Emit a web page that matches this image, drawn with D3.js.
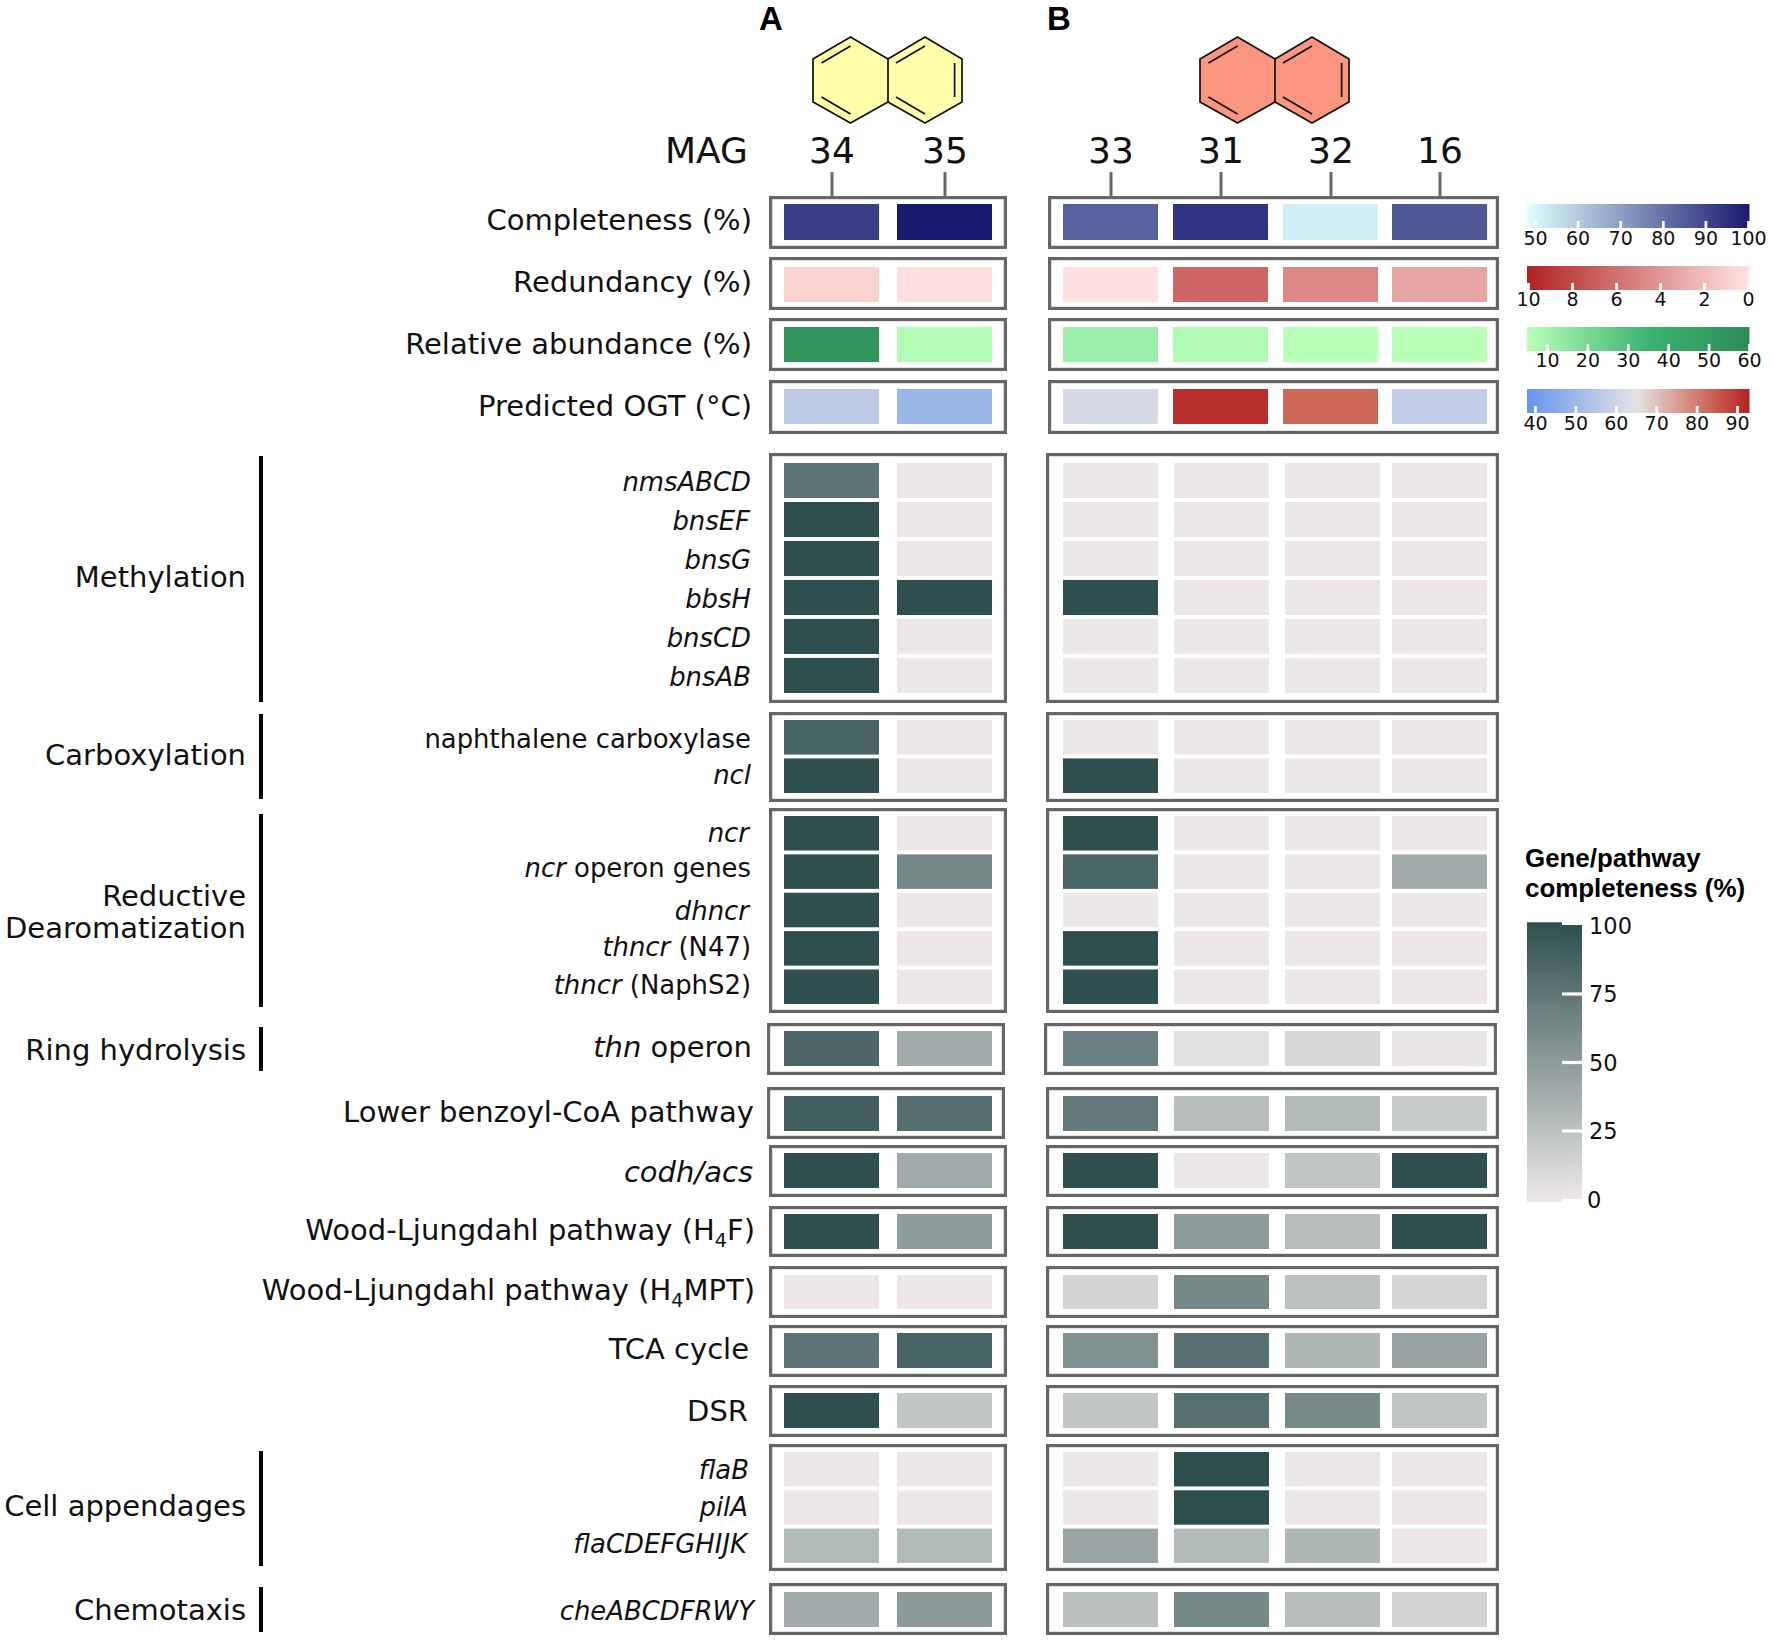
<!DOCTYPE html>
<html>
<head>
<meta charset="utf-8">
<script src="https://d3js.org/d3.v7.min.js"></script>
<style>html,body{margin:0;padding:0;background:#fff}svg{display:block}</style>
</head>
<body>
<svg id="c" width="1772" height="1642"></svg>
<script>
// ---------- DATA ----------
const magsA = ["34", "35"];
const magsB = ["33", "31", "32", "16"];
const mags = magsA.concat(magsB);

const completeness = [92, 100, 84, 94, 52, 86];
const redundancy = [0.9, 0.2, 0.15, 6.5, 4.8, 3.2];
const abundance = [53.7, 6.2, 11.3, 7, 5, 5];
const ogt = [56.4, 49.5, 61.5, 91, 83, 57.3];

const metaLabels = ["Completeness (%)", "Redundancy (%)", "Relative abundance (%)", "Predicted OGT (°C)"];

const methylationRows = ["*nmsABCD*", "*bnsEF*", "*bnsG*", "*bbsH*", "*bnsCD*", "*bnsAB*"];
const methylationValues = [
  [76, 0, 0, 0, 0, 0],
  [100, 0, 0, 0, 0, 0],
  [100, 0, 0, 0, 0, 0],
  [100, 100, 100, 0, 0, 0],
  [100, 0, 0, 0, 0, 0],
  [100, 0, 0, 0, 0, 0]
];
const carboxylationRows = ["naphthalene carboxylase", "*ncl*"];
const carboxylationValues = [
  [86, 0, 0, 0, 0, 0],
  [100, 0, 100, 0, 0, 0]
];
const reductiveRows = ["*ncr*", "*ncr* operon genes", "*dhncr*", "*thncr* (N47)", "*thncr* (NaphS2)"];
const reductiveValues = [
  [100, 0, 100, 0, 0, 0],
  [100, 63, 85, 0, 0, 39],
  [100, 0, 0, 0, 0, 0],
  [100, 0, 100, 0, 0, 0],
  [100, 0, 100, 0, 0, 0]
];
const thnValues = [84, 39, 68, 5, 11, 1];
const lowerBenzoylValues = [90, 80, 72, 28, 30, 19];
const codhValues = [100, 40, 100, 0, 23, 100];
const wlH4fValues = [100, 50, 100, 50, 28, 100];
const wlH4mptValues = [0, 0, 13, 63, 26, 12];
const tcaValues = [76, 86, 57, 79, 32, 45];
const dsrValues = [100, 22, 22, 79, 62, 23];
const appendageRows = ["*flaB*", "*pilA*", "*flaCDEFGHIJK*"];
const appendageValues = [
  [0, 0, 0, 100, 0, 0],
  [0, 0, 0, 100, 0, 0],
  [30, 30, 44, 30, 32, 0]
];
const chemotaxisValues = [39, 51, 27, 63, 28, 14];

const completenessTicks = [50, 60, 70, 80, 90, 100];
const redundancyTicks = [10, 8, 6, 4, 2, 0];
const abundanceTicks = [10, 20, 30, 40, 50, 60];
const ogtTicks = [40, 50, 60, 70, 80, 90];
const geneTicks = [0, 25, 50, 75, 100];

// ---------- COLOUR SCALES ----------
const completenessColor = d3.scaleLinear().domain([48.1, 100.3]).range(["#e0ffff", "#191970"]);
const redundancyColor = d3.scaleLinear().domain([0, 10]).range(["#ffe4e1", "#b22222"]);
const abundanceColor = d3.scaleLinear().domain([5, 35, 60]).range(["#b8ffb8", "#3cb371", "#2e8b57"]);
const ogtColor = d3.scaleLinear().domain([38, 65, 83, 93]).range(["#6495ed", "#e6e3e3", "#cd6858", "#b22222"]);
const geneColor = d3.scaleLinear().domain([0, 100]).range(["#ece8e8", "#2f4f4f"]);

// ---------- LAYOUT ----------
const W = 1772, H = 1642;
const FONT = "'DejaVu Sans'";
const FRAME = "#666666";
const CELL_W = 95;
const LARGE = 29, SMALL = 25.9;

const xTop = d3.scaleOrdinal(mags, [784, 897, 1063, 1173, 1283, 1392]);
const xBody = d3.scaleOrdinal(mags, [784, 897, 1063, 1174, 1285, 1392]);
const xCenter = d3.scaleOrdinal(mags, mags.map(m => xTop(m) + CELL_W / 2));

const svg = d3.select("#c");
const defs = svg.append("defs");

// rich text: *italic*, ~subscript~
function rich(sel, s, size) {
  const parts = s.split(/(\*[^*]+\*|~[^~]+~)/).filter(Boolean);
  let pendingUp = 0;
  parts.forEach(p => {
    const t = sel.append("tspan");
    if (pendingUp) { t.attr("dy", -pendingUp); pendingUp = 0; }
    if (p[0] === "*") t.attr("font-style", "italic").text(p.slice(1, -1));
    else if (p[0] === "~") {
      t.attr("font-size", size * 0.66).attr("dy", 7).text(p.slice(1, -1));
      pendingUp = 7;
    } else t.text(p);
  });
}

function label(x, y, s, size) {
  const t = svg.append("text").attr("x", x).attr("y", y).attr("text-anchor", "end")
    .attr("font-family", FONT).attr("font-size", size).attr("fill", "#111");
  rich(t, s, size);
}

function frame(x0, x1, y0, y1) {
  svg.append("rect").attr("x", x0 + 1.6).attr("y", y0 + 1.6)
    .attr("width", x1 - x0 - 3.2).attr("height", y1 - y0 - 3.2)
    .attr("fill", "#fff").attr("stroke", FRAME).attr("stroke-width", 3.2);
}

// a block = frames + a matrix of cells
function block(cfg) {
  const a = cfg.a || [769, 1007], b = cfg.b || [1046, 1499];
  frame(a[0], a[1], cfg.frame[0], cfg.frame[1]);
  frame(b[0], b[1], cfg.frame[0], cfg.frame[1]);
  const n = cfg.values.length;
  const y = d3.scaleBand().domain(d3.range(n)).range(cfg.cells).paddingInner(n > 1 ? 0.1 : 0);
  const x = cfg.x || xBody;
  cfg.values.forEach((row, i) => {
    svg.append("g").selectAll("rect").data(row).join("rect")
      .attr("x", (d, j) => x(mags[j]))
      .attr("y", y(i))
      .attr("width", CELL_W)
      .attr("height", y.bandwidth())
      .attr("fill", d => (cfg.color || geneColor)(d));
  });
}

// ---------- HEADER ----------
svg.append("text").attr("x", 759).attr("y", 30).attr("font-family", "'Liberation Sans'")
  .attr("font-weight", "bold").attr("font-size", 33).attr("fill", "#000").text("A");
svg.append("text").attr("x", 1047).attr("y", 30).attr("font-family", "'Liberation Sans'")
  .attr("font-weight", "bold").attr("font-size", 33).attr("fill", "#000").text("B");

function naphthalene(dx, fill) {
  const g = svg.append("g").attr("transform", `translate(${dx},0)`)
    .attr("stroke", "#111").attr("stroke-width", 1.7).attr("fill", "none").attr("stroke-linejoin", "miter");
  g.append("path").attr("fill", fill)
    .attr("d", "M813,59L850.5,37L888,59L925,37L962,59L962,102L925,123L888,102L850.5,123L813,102Z");
  g.append("path").attr("d",
    "M888,59L888,102M821.5,63L850.5,46M821.5,97L850.5,114M896,63L925,46M896,97L925,114M954.6,63L954.6,97");
}
naphthalene(0, "#ffffaa");
naphthalene(387, "#fa9580");

svg.append("text").attr("x", 748).attr("y", 163).attr("text-anchor", "end")
  .attr("font-family", FONT).attr("font-size", 36).attr("fill", "#111").text("MAG");

// ---------- METADATA ROWS ----------
const metaLayout = [
  { frame: [196, 249], cells: [204, 240], label: 230 },
  { frame: [257, 310], cells: [267, 302], label: 292 },
  { frame: [318, 371], cells: [327, 362], label: 354 },
  { frame: [380, 434], cells: [389, 424], label: 416 }
];
const metaValues = [completeness, redundancy, abundance, ogt];
const metaColors = [completenessColor, redundancyColor, abundanceColor, ogtColor];
metaLayout.forEach((l, i) => {
  block({ frame: l.frame, cells: l.cells, values: [metaValues[i]], color: metaColors[i], x: xTop, b: [1048, 1499] });
  label(752, l.label, metaLabels[i], LARGE);
});

// MAG axis (ticks run down to the first frame)
const magAxis = svg.append("g").attr("transform", "translate(0,196)")
  .call(d3.axisTop(xCenter).tickSizeInner(24).tickSizeOuter(0).tickPadding(9));
magAxis.select(".domain").remove();
magAxis.selectAll("line").attr("stroke", FRAME).attr("stroke-width", 3);
magAxis.selectAll("text").attr("font-family", FONT).attr("font-size", 36).attr("fill", "#111");

// ---------- GENE ROWS ----------
block({ frame: [453, 703], cells: [463, 693], values: methylationValues });
block({ frame: [712, 802], cells: [720, 793], values: carboxylationValues });
block({ frame: [808, 1013], cells: [816, 1004], values: reductiveValues });
block({ frame: [1023, 1075], cells: [1031, 1066], values: [thnValues], a: [767, 1005], b: [1044, 1497] });
block({ frame: [1087, 1139], cells: [1096, 1131], values: [lowerBenzoylValues], a: [767, 1005] });
block({ frame: [1145, 1197], cells: [1153, 1188], values: [codhValues] });
block({ frame: [1206, 1257], cells: [1214, 1249], values: [wlH4fValues] });
block({ frame: [1266, 1318], cells: [1275, 1309], values: [wlH4mptValues] });
block({ frame: [1325, 1377], cells: [1333, 1368], values: [tcaValues] });
block({ frame: [1385, 1437], cells: [1393, 1428], values: [dsrValues] });
block({ frame: [1444, 1571], cells: [1452, 1563], values: appendageValues });
block({ frame: [1583, 1635], cells: [1592, 1627], values: [chemotaxisValues] });

const smallPos = [[751, 491], [750, 530], [751, 569], [751, 608], [751, 647], [751, 686]];
methylationRows.forEach((s, i) => label(smallPos[i][0], smallPos[i][1], s, SMALL));
const carbPos = [[751, 748], [751, 784]];
carboxylationRows.forEach((s, i) => label(carbPos[i][0], carbPos[i][1], s, SMALL));
const redPos = [[749, 842], [751, 877], [749, 920], [751, 956], [751, 994]];
reductiveRows.forEach((s, i) => label(redPos[i][0], redPos[i][1], s, SMALL));
const appPos = [[749, 1479], [748, 1516], [747, 1553]];
appendageRows.forEach((s, i) => label(appPos[i][0], appPos[i][1], s, SMALL));
label(754, 1620, "*cheABCDFRWY*", SMALL);

label(752, 1057, "*thn* operon", LARGE);
label(754, 1122, "Lower benzoyl-CoA pathway", LARGE);
label(753, 1182, "*codh/acs*", LARGE);
label(755, 1240, "Wood-Ljungdahl pathway (H~4~F)", LARGE);
label(755, 1300, "Wood-Ljungdahl pathway (H~4~MPT)", LARGE);
label(749, 1359, "TCA cycle", LARGE);
label(748, 1421, "DSR", LARGE);

// ---------- PROCESS GROUPS ----------
const groupNames = ["Methylation", "Carboxylation", "Reductive", "Dearomatization", "Ring hydrolysis", "Cell appendages", "Chemotaxis"];
const groupBaselines = [587, 765, 906, 938, 1060, 1516, 1620];
groupNames.forEach((s, i) => label(246, groupBaselines[i], s, LARGE));
const groupBars = [[456, 702], [714, 799], [814, 1007], [1027, 1071], [1451, 1566], [1587, 1632]];
svg.append("g").selectAll("line").data(groupBars).join("line")
  .attr("x1", 261).attr("x2", 261).attr("y1", d => d[0]).attr("y2", d => d[1])
  .attr("stroke", "#000").attr("stroke-width", 4);

// ---------- COLOUR BARS ----------
function gradient(id, color, horizontalDomain, flip) {
  const dom = horizontalDomain;
  const lg = defs.append("linearGradient").attr("id", id)
    .attr("x1", 0).attr("x2", flip === "v" ? 0 : 1).attr("y1", flip === "v" ? 1 : 0).attr("y2", 0);
  const stops = d3.range(0, 21).map(i => i / 20);
  lg.selectAll("stop").data(stops).join("stop")
    .attr("offset", d => d)
    .attr("stop-color", d => color(dom[0] + (dom[1] - dom[0]) * d));
  return `url(#${id})`;
}

const bars = [
  { id: "gC", color: completenessColor, y: 204, ticks: completenessTicks, dom: [50, 100], rng: [1535, 1748], text: 17, ends: [48.1, 100.3], notch: [1748, 1750] },
  { id: "gR", color: redundancyColor, y: 266, ticks: redundancyTicks, dom: [10, 0], rng: [1528, 1748], text: 16, ends: [10.03, -0.05], notch: [1526, 1528] },
  { id: "gA", color: abundanceColor, y: 327, ticks: abundanceTicks, dom: [10, 60], rng: [1547, 1749], text: 16, ends: [5, 60] },
  { id: "gO", color: ogtColor, y: 389, ticks: ogtTicks, dom: [40, 90], rng: [1535, 1737], text: 17, ends: [38, 93] }
];
const BAR_X = [1527, 1749.5], BAR_H = 24;
bars.forEach(b => {
  const x = d3.scaleLinear().domain(b.dom).range(b.rng);
  const fill = gradient(b.id, b.color, b.ends);
  svg.append("rect").attr("x", BAR_X[0]).attr("y", b.y)
    .attr("width", BAR_X[1] - BAR_X[0]).attr("height", BAR_H).attr("fill", fill);
  if (b.notch) svg.append("rect").attr("x", b.notch[0]).attr("y", b.y + 17)
    .attr("width", b.notch[1] - b.notch[0]).attr("height", 8).attr("fill", "#fff");
  const ax = svg.append("g").attr("transform", `translate(0,${b.y + BAR_H})`)
    .call(d3.axisBottom(x).tickValues(b.ticks).tickFormat(d3.format("d")).tickSizeInner(-7).tickSizeOuter(0));
  ax.select(".domain").remove();
  ax.selectAll("line").attr("stroke", "#fff").attr("stroke-width", 2.7);
  ax.selectAll("text").attr("y", b.text).attr("dy", 0)
    .attr("font-family", FONT).attr("font-size", 19).attr("fill", "#111");
});

// gene/pathway legend
const legTitle = ["Gene/pathway", "completeness (%)"];
const legBase = [867, 897];
legTitle.forEach((s, i) => svg.append("text").attr("x", 1525).attr("y", legBase[i])
  .attr("font-family", "'Liberation Sans'").attr("font-weight", "bold")
  .attr("font-size", 25.9).attr("fill", "#000").text(s));

const yLeg = d3.scaleLinear().domain([0, 100]).range([1199, 925]);
const legFill = gradient("gG", geneColor, [0, 100], "v");
svg.append("rect").attr("x", 1527).attr("y", yLeg(101)).attr("width", 35)
  .attr("height", yLeg(-1.2) - yLeg(101)).attr("fill", legFill);
svg.append("rect").attr("x", 1562).attr("y", yLeg(100)).attr("width", 20)
  .attr("height", yLeg(0) - yLeg(100)).attr("fill", legFill);
const legAxis = svg.append("g").attr("transform", "translate(1582,0)")
  .call(d3.axisRight(yLeg).tickValues(geneTicks).tickSizeInner(-20).tickSizeOuter(0).tickPadding(8));
legAxis.select(".domain").remove();
legAxis.selectAll("line").attr("stroke", "#fff").attr("stroke-width", 3.2)
  .filter(d => d === 0 || d === 100).remove();
legAxis.selectAll("text").attr("x", d => d === 0 ? 5 : 7).attr("dy", "0.36em")
  .attr("font-family", FONT).attr("font-size", 22.5).attr("fill", "#111");
</script>
</body>
</html>
